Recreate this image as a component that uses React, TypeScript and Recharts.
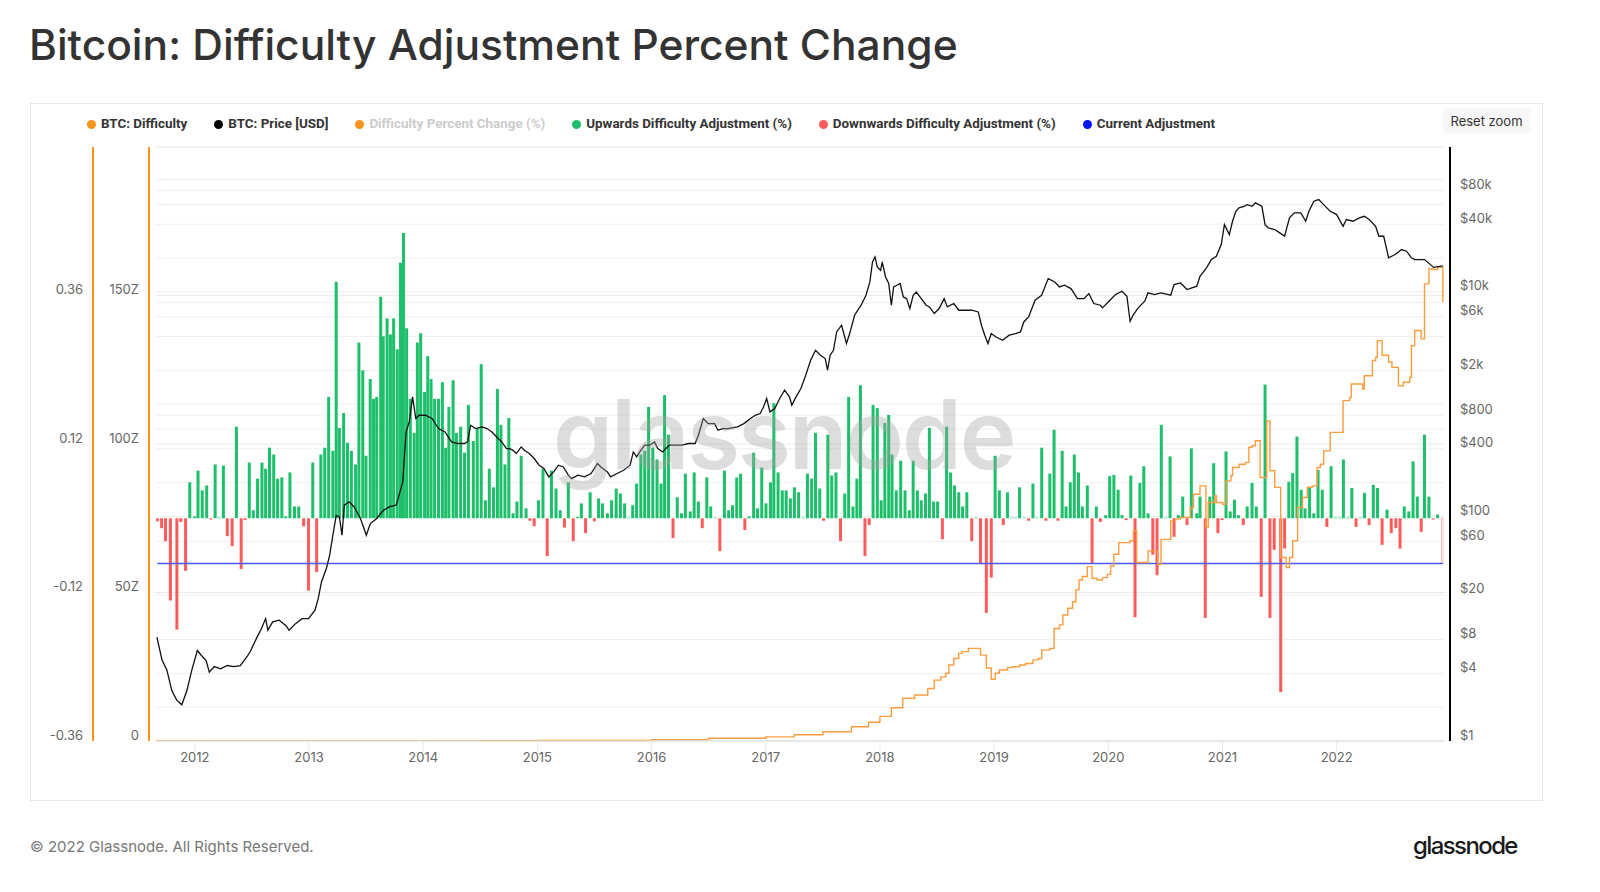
import React from 'react';
import { ComposedChart, Bar, Line, XAxis, YAxis, CartesianGrid, ReferenceLine } from 'recharts';

const FONT = "Inter, 'Noto Sans', sans-serif";

// axis ticks
const yearTicks = [2012, 2013, 2014, 2015, 2016, 2017, 2018, 2019, 2020, 2021, 2022];
const difficultyTicks = [0, 50, 100, 150, 200];
const percentTicks = [-0.36, -0.12, 0.12, 0.36];
const priceTicks = [1, 2, 4, 8, 20, 60, 100, 200, 400, 600, 800, 1000, 2000, 4000, 6000, 8000, 10000, 20000, 40000, 60000, 80000, 100000];
const priceLabelled = [1, 4, 8, 20, 60, 100, 400, 800, 2000, 6000, 10000, 40000, 80000];

// difficulty adjustments: [date as decimal year, fractional change]
const adj2011to2014: [number, number][] = [
  [2011.672, -0.005], [2011.709, -0.016], [2011.743, -0.037], [2011.786, -0.133], [2011.843, -0.18], [2011.877, -0.006],
  [2011.919, -0.085], [2011.956, 0.058], [2011.999, 0.003], [2012.028, 0.077], [2012.065, 0.045], [2012.104, 0.053],
  [2012.141, -0.002], [2012.178, 0.087], [2012.213, 0.001], [2012.25, 0.085], [2012.284, -0.029], [2012.327, -0.045],
  [2012.364, 0.148], [2012.406, -0.082], [2012.44, -0.003], [2012.477, 0.09], [2012.512, 0.013], [2012.549, 0.064],
  [2012.588, 0.09], [2012.62, 0.08], [2012.654, 0.114], [2012.691, 0.103], [2012.725, 0.064], [2012.762, 0.066],
  [2012.796, 0.003], [2012.833, 0.074], [2012.873, 0.019], [2012.91, 0.019], [2012.953, -0.013], [2012.996, -0.117],
  [2013.033, 0.09], [2013.067, -0.087], [2013.104, 0.103], [2013.138, 0.114], [2013.172, 0.196], [2013.209, 0.109],
  [2013.238, 0.382], [2013.266, 0.146], [2013.303, 0.17], [2013.337, 0.122], [2013.371, 0.109], [2013.408, 0.087],
  [2013.437, 0.284], [2013.471, 0.239], [2013.499, 0.101], [2013.536, 0.225], [2013.565, 0.193], [2013.593, 0.196],
  [2013.628, 0.358], [2013.65, 0.294], [2013.684, 0.323], [2013.713, 0.297], [2013.741, 0.323], [2013.773, 0.273],
  [2013.801, 0.413], [2013.827, 0.461], [2013.855, 0.307], [2013.887, 0.193], [2013.921, 0.138], [2013.949, 0.284],
  [2013.978, 0.299], [2014.012, 0.204], [2014.04, 0.262], [2014.069, 0.225], [2014.1, 0.193], [2014.134, 0.193],
  [2014.168, 0.22], [2014.197, 0.114], [2014.225, 0.18], [2014.262, 0.223], [2014.291, 0.138], [2014.328, 0.148],
  [2014.362, 0.106], [2014.396, 0.183],
];

const adj2014to2017: [number, number][] = [
  [2014.439, 0.125], [2014.473, 0.146], [2014.508, 0.249], [2014.545, 0.029], [2014.579, 0.08], [2014.616, 0.05],
  [2014.65, 0.209], [2014.681, 0.151], [2014.716, 0.087], [2014.75, 0.162], [2014.787, 0.008], [2014.821, 0.027],
  [2014.858, 0.101], [2014.901, 0.016], [2014.935, -0.004], [2014.972, -0.013], [2015.009, 0.029], [2015.049, 0.08],
  [2015.086, -0.061], [2015.123, 0.077], [2015.163, 0.048], [2015.2, 0.013], [2015.237, -0.015], [2015.271, 0.058],
  [2015.314, -0.037], [2015.351, 0.002], [2015.385, 0.024], [2015.422, -0.024], [2015.462, 0.042], [2015.499, -0.005],
  [2015.536, 0.032], [2015.57, 0.024], [2015.613, 0.008], [2015.65, 0.029], [2015.69, 0.048], [2015.727, 0.04],
  [2015.764, 0.024], [2015.801, 0.001], [2015.835, 0.021], [2015.869, 0.056], [2015.906, 0.103], [2015.94, 0.109],
  [2015.974, 0.18], [2016.011, 0.114], [2016.048, 0.095], [2016.083, 0.056], [2016.114, 0.199], [2016.148, 0.135],
  [2016.188, -0.032], [2016.225, 0.034], [2016.262, 0.008], [2016.296, 0.072], [2016.339, 0.011], [2016.373, 0.074],
  [2016.41, 0.027], [2016.444, -0.016], [2016.484, 0.066], [2016.518, 0.019], [2016.558, 0.001], [2016.598, -0.053],
  [2016.638, 0.077], [2016.675, 0.013], [2016.709, 0.021], [2016.746, 0.066], [2016.78, 0.072], [2016.817, -0.019],
  [2016.854, 0.003], [2016.894, 0.106], [2016.928, 0.016], [2016.965, 0.082], [2017.002, 0.024], [2017.042, 0.058],
  [2017.071, 0.186], [2017.108, 0.074], [2017.145, 0.045], [2017.179, 0.045],
];

const adj2017to2019: [number, number][] = [
  [2017.216, 0.032], [2017.251, 0.05], [2017.288, 0.042], [2017.327, 0.001], [2017.365, 0.072], [2017.402, 0.064],
  [2017.436, 0.138], [2017.473, 0.048], [2017.507, -0.004], [2017.544, 0.135], [2017.578, 0.069], [2017.615, 0.074],
  [2017.655, -0.037], [2017.692, 0.04], [2017.726, 0.196], [2017.764, 0.019], [2017.798, 0.064], [2017.829, 0.215],
  [2017.869, -0.061], [2017.906, -0.011], [2017.94, 0.183], [2017.977, 0.178], [2018.011, 0.029], [2018.043, 0.154],
  [2018.077, 0.167], [2018.106, 0.103], [2018.143, 0.045], [2018.182, 0.093], [2018.22, 0.045], [2018.257, 0.013],
  [2018.291, 0.093], [2018.328, 0.045], [2018.362, 0.029], [2018.399, 0.04], [2018.433, 0.146], [2018.47, 0.027],
  [2018.505, 0.027], [2018.547, -0.034], [2018.584, 0.148], [2018.619, 0.074], [2018.653, 0.053], [2018.69, 0.042],
  [2018.724, 0.019], [2018.761, 0.042], [2018.804, -0.037], [2018.842, 0.001], [2018.881, -0.074], [2018.932, -0.153],
  [2018.975, -0.096], [2019.009, 0.101], [2019.046, 0.045], [2019.08, -0.011], [2019.117, 0.042], [2019.154, 0.001],
  [2019.188, 0.001], [2019.223, 0.05], [2019.265, 0.001], [2019.302, -0.004], [2019.34, 0.056], [2019.374, 0.001],
  [2019.417, 0.114], [2019.454, -0.004], [2019.488, 0.072], [2019.525, 0.143], [2019.559, -0.004], [2019.596, 0.109],
  [2019.63, 0.019], [2019.667, 0.058], [2019.702, 0.103], [2019.739, 0.074], [2019.773, 0.019], [2019.816, 0.053],
  [2019.858, -0.074], [2019.895, 0.019], [2019.93, -0.006],
];

const adj2020to2022: [number, number][] = [
  [2019.977, 0.005], [2020.012, 0.068], [2020.049, 0.07], [2020.086, 0.046], [2020.12, 0.005], [2020.157, -0.003],
  [2020.197, 0.069], [2020.234, -0.16], [2020.277, 0.057], [2020.311, 0.084], [2020.348, 0.008], [2020.39, -0.059],
  [2020.427, -0.092], [2020.464, 0.151], [2020.504, 0.001], [2020.541, 0.1], [2020.576, -0.03], [2020.613, 0.005],
  [2020.652, 0.035], [2020.689, -0.011], [2020.727, 0.113], [2020.775, 0.008], [2020.803, 0.035], [2020.849, -0.161],
  [2020.889, 0.035], [2020.923, 0.089], [2020.96, -0.024], [2020.997, -0.003], [2021.031, 0.108], [2021.068, 0.011],
  [2021.105, 0.03], [2021.139, 0.005], [2021.182, -0.011], [2021.216, 0.019], [2021.259, 0.057], [2021.296, 0.019],
  [2021.339, -0.127], [2021.373, 0.216], [2021.416, -0.161], [2021.453, -0.051], [2021.51, -0.281], [2021.544, -0.049],
  [2021.581, 0.059], [2021.615, 0.073], [2021.652, 0.132], [2021.689, 0.046], [2021.723, 0.016], [2021.763, 0.051],
  [2021.8, 0.008], [2021.837, 0.078], [2021.874, 0.046], [2021.914, -0.014], [2021.951, 0.084], [2021.988, 0.001],
  [2022.028, 0.001], [2022.059, 0.095], [2022.099, 0.001], [2022.133, 0.049], [2022.17, -0.014], [2022.207, 0.001],
  [2022.244, 0.041], [2022.284, -0.011], [2022.321, 0.054], [2022.358, 0.049], [2022.398, -0.043], [2022.441, 0.014],
  [2022.478, -0.024], [2022.518, -0.016], [2022.555, -0.049], [2022.592, 0.019], [2022.632, 0.011], [2022.669, 0.092],
  [2022.706, 0.035], [2022.74, -0.022], [2022.769, 0.135], [2022.808, 0.035], [2022.846, -0.002], [2022.884, 0.006],
];

const currentAdjustmentDate = 2022.93;
const currentAdjustment = -0.0732;

// BTC price in USD: [date, price]
const price2011to2014: [number, number][] = [
  [2011.668, 8.4], [2011.712, 5.3], [2011.755, 4.3], [2011.799, 2.8], [2011.843, 2.3], [2011.886, 2.1], [2011.93, 2.8],
  [2011.974, 4.3], [2012.022, 6.4], [2012.056, 5.8], [2012.099, 5.2], [2012.127, 4.1], [2012.17, 4.6], [2012.227, 4.4],
  [2012.284, 4.7], [2012.341, 4.6], [2012.398, 4.7], [2012.455, 5.6], [2012.483, 6.2], [2012.54, 8.2], [2012.583, 10],
  [2012.62, 12.3], [2012.64, 9.7], [2012.682, 11.5], [2012.739, 11.9], [2012.796, 10.7], [2012.825, 9.7], [2012.882, 11.1],
  [2012.939, 12.3], [2012.996, 12.3], [2013.052, 14.6], [2013.081, 18.6], [2013.109, 26.1], [2013.152, 34.4],
  [2013.181, 45.2], [2013.209, 68], [2013.238, 102], [2013.266, 99], [2013.289, 68], [2013.309, 126], [2013.351, 135],
  [2013.394, 122], [2013.451, 96], [2013.502, 68], [2013.536, 86], [2013.593, 96], [2013.65, 113], [2013.707, 122],
  [2013.764, 126], [2013.821, 203], [2013.85, 565], [2013.878, 695], [2013.907, 1159], [2013.935, 745], [2013.964, 796],
  [2014.02, 796], [2014.077, 745], [2014.134, 606], [2014.191, 565], [2014.248, 461], [2014.305, 446], [2014.362, 446],
];

const price2014to2017: [number, number][] = [
  [2014.388, 461], [2014.416, 649], [2014.459, 606], [2014.516, 627], [2014.559, 606], [2014.602, 565], [2014.644, 510],
  [2014.687, 461], [2014.73, 402], [2014.758, 402], [2014.787, 388], [2014.815, 363], [2014.858, 416], [2014.886, 388],
  [2014.929, 363], [2014.972, 328], [2015.015, 286], [2015.057, 267], [2015.1, 225], [2015.143, 249], [2015.185, 286],
  [2015.228, 276], [2015.271, 233], [2015.299, 217], [2015.356, 233], [2015.413, 225], [2015.47, 241], [2015.527, 296],
  [2015.556, 276], [2015.613, 249], [2015.641, 225], [2015.698, 241], [2015.755, 258], [2015.812, 286], [2015.84, 375],
  [2015.869, 339], [2015.897, 375], [2015.94, 431], [2015.983, 431], [2016.026, 461], [2016.054, 402], [2016.097, 375],
  [2016.154, 431], [2016.211, 431], [2016.268, 431], [2016.325, 446], [2016.382, 446], [2016.41, 528], [2016.453, 745],
  [2016.496, 671], [2016.552, 671], [2016.581, 586], [2016.624, 606], [2016.666, 606], [2016.752, 627], [2016.809, 671],
  [2016.866, 745], [2016.908, 796], [2016.951, 824], [2016.98, 944], [2017.008, 1122], [2017.037, 853], [2017.079, 914],
  [2017.122, 1122],
];

const price2017to2019: [number, number][] = [
  [2017.165, 1330], [2017.208, 1161], [2017.228, 977], [2017.265, 1161], [2017.308, 1377], [2017.35, 1808],
  [2017.393, 2459], [2017.436, 3020], [2017.479, 2725], [2017.521, 2545], [2017.541, 2004], [2017.564, 2725],
  [2017.593, 3020], [2017.621, 4395], [2017.664, 5045], [2017.707, 3466], [2017.735, 4253], [2017.778, 6194],
  [2017.835, 7601], [2017.878, 9330], [2017.912, 12250], [2017.935, 18470], [2017.957, 20470], [2017.977, 16670],
  [2018.006, 15560], [2018.02, 18470], [2018.049, 13570], [2018.077, 11860], [2018.1, 7601], [2018.12, 11070],
  [2018.148, 11450], [2018.177, 11860], [2018.205, 9010], [2018.234, 8710], [2018.262, 7100], [2018.291, 9330],
  [2018.319, 9970], [2018.362, 8710], [2018.405, 7601], [2018.433, 7340], [2018.476, 6410], [2018.519, 7100],
  [2018.562, 8710], [2018.59, 7340], [2018.647, 7870], [2018.69, 6860], [2018.733, 6860], [2018.804, 6860],
  [2018.861, 6620], [2018.889, 5045], [2018.918, 4110], [2018.946, 3466], [2018.975, 4253], [2019.017, 3965],
  [2019.074, 3705], [2019.132, 4110], [2019.188, 4253], [2019.231, 4395], [2019.26, 5395], [2019.302, 5980],
  [2019.359, 8420], [2019.416, 9330], [2019.474, 13130], [2019.531, 12250], [2019.573, 11070], [2019.616, 11450],
  [2019.673, 10690], [2019.73, 8710], [2019.787, 8710], [2019.83, 9660], [2019.873, 7870], [2019.93, 7601],
];

const price2020to2022: [number, number][] = [
  [2019.949, 7200], [2020.006, 8250], [2020.063, 9460], [2020.12, 10120], [2020.163, 9140], [2020.191, 5470],
  [2020.22, 6280], [2020.262, 7200], [2020.319, 8250], [2020.348, 9790], [2020.405, 9460], [2020.462, 9790],
  [2020.547, 9330], [2020.576, 11600], [2020.633, 12000], [2020.689, 10490], [2020.775, 11220], [2020.803, 13770],
  [2020.86, 16360], [2020.903, 19400], [2020.946, 20750], [2020.989, 26400], [2021.017, 39700], [2021.06, 32360],
  [2021.088, 42560], [2021.117, 52240], [2021.145, 55980], [2021.188, 57810], [2021.216, 59850], [2021.259, 57810],
  [2021.288, 62060], [2021.345, 57810], [2021.373, 39700], [2021.401, 37150], [2021.458, 35890], [2021.501, 33500],
  [2021.544, 31260], [2021.587, 45600], [2021.629, 50470], [2021.686, 50470], [2021.729, 42560], [2021.757, 52240],
  [2021.8, 64120], [2021.843, 66380], [2021.886, 59850], [2021.943, 52240], [2022.0, 48780], [2022.056, 38370],
  [2022.085, 44020], [2022.142, 42560], [2022.199, 45600], [2022.242, 47120], [2022.284, 44020], [2022.341, 38370],
  [2022.37, 31260], [2022.412, 31260], [2022.455, 20080], [2022.512, 21480], [2022.569, 23820], [2022.612, 23010],
  [2022.655, 20080], [2022.683, 19400], [2022.726, 19400], [2022.769, 19400], [2022.85, 16500], [2022.93, 17000],
];

// BTC difficulty (Z units as on the axis): [date, difficulty]
const difficultyEarly: [number, number][] = [
  [2011.66, 0], [2013.5, 0.002], [2014.0, 0.006], [2014.5, 0.07], [2015.0, 0.17], [2015.5, 0.22], [2016.0, 0.45],
  [2016.5, 0.92], [2017.0, 1.39], [2017.25, 2.1], [2017.5, 3.1], [2017.75, 4.8], [2017.9, 6.3], [2018.0, 8.3],
  [2018.1, 11.2], [2018.2, 14.4],
];

const difficulty2018to2019: [number, number][] = [
  [2018.305, 15.5], [2018.419, 17.7], [2018.476, 20.5], [2018.533, 21.6], [2018.576, 22.8], [2018.604, 25.6],
  [2018.647, 27.8], [2018.69, 29.5], [2018.718, 30.1], [2018.775, 31.2], [2018.881, 28.9], [2018.932, 24.6],
  [2018.975, 20.8], [2019.009, 22.8], [2019.046, 23.9], [2019.117, 24.7], [2019.16, 25.0], [2019.223, 25.6],
  [2019.274, 26.1], [2019.34, 27.3], [2019.388, 27.8], [2019.417, 30.6], [2019.488, 31.2], [2019.525, 37.9],
  [2019.573, 39.1], [2019.602, 42.4], [2019.645, 44.7], [2019.687, 46.9], [2019.716, 50.9], [2019.744, 54.2],
  [2019.773, 55.4], [2019.816, 58.7], [2019.858, 54.8], [2019.901, 54.2],
];

const difficulty2020to2022: [number, number][] = [
  [2019.949, 55.0], [2019.992, 56.1], [2020.02, 58.9], [2020.049, 62.9], [2020.091, 66.8], [2020.191, 67.4],
  [2020.22, 70.8], [2020.248, 60.1], [2020.348, 64.0], [2020.433, 59.5], [2020.462, 67.9], [2020.547, 74.1],
  [2020.59, 74.7], [2020.633, 75.3], [2020.718, 78.6], [2020.746, 83.1], [2020.803, 85.9], [2020.855, 71.9],
  [2020.875, 80.3], [2020.932, 82.6], [2020.946, 80.3], [2021.003, 79.7], [2021.031, 87.6], [2021.074, 89.3],
  [2021.088, 92.1], [2021.145, 93.2], [2021.202, 93.8], [2021.231, 98.9], [2021.259, 99.4], [2021.288, 101.1],
  [2021.33, 88.7], [2021.387, 107.8], [2021.416, 91.0], [2021.458, 85.4], [2021.51, 61.8], [2021.558, 58.4],
  [2021.587, 61.8], [2021.615, 67.4], [2021.658, 78.6], [2021.701, 82.0], [2021.743, 85.4], [2021.786, 85.9],
  [2021.829, 92.1], [2021.857, 93.2], [2021.886, 97.7], [2021.943, 103.9], [2022.056, 114.6], [2022.113, 115.7],
  [2022.128, 120.2], [2022.228, 118.5], [2022.242, 123.0], [2022.313, 128.1], [2022.342, 129.2], [2022.356, 134.8],
  [2022.398, 129.9], [2022.455, 127.6], [2022.484, 125.8], [2022.541, 119.6], [2022.584, 120.8], [2022.64, 122.5],
  [2022.655, 133.1], [2022.683, 138.2], [2022.74, 135.4], [2022.769, 153.9], [2022.808, 159.0], [2022.846, 158.7],
  [2022.884, 159.5], [2022.93, 147.8],
];

const GREEN = '#1ebf6a';
const RED = '#ff5b5b';
const ORANGE = '#f7931a';
const BLUE = '#4a5af2';

const adjustments = [...adj2011to2014, ...adj2014to2017, ...adj2017to2019, ...adj2020to2022];
const barRows = adjustments
  .map(([t, change]) => ({ t, change, kind: change >= 0 ? 'up' : 'down' }))
  .concat([{ t: currentAdjustmentDate, change: currentAdjustment, kind: 'current' }]);
const priceRows = [...price2011to2014, ...price2014to2017, ...price2017to2019, ...price2020to2022].map(([t, price]) => ({ t, price }));
const difficultyRows = [...difficultyEarly, ...difficulty2018to2019, ...difficulty2020to2022].map(([t, difficulty]) => ({ t, difficulty }));

const legendItems = [
  { label: 'BTC: Difficulty', dot: ORANGE, muted: false },
  { label: 'BTC: Price [USD]', dot: '#000', muted: false },
  { label: 'Difficulty Percent Change (%)', dot: ORANGE, muted: true },
  { label: 'Upwards Difficulty Adjustment (%)', dot: GREEN, muted: false },
  { label: 'Downwards Difficulty Adjustment (%)', dot: RED, muted: false },
  { label: 'Current Adjustment', dot: '#0011ff', muted: false },
];

const tickText = { fill: '#666', fontSize: 13, fontFamily: FONT };

const yearTick = (props: any) => (
  <text x={props.x} y={props.y} dy="0.71em" textAnchor="middle" {...tickText}>{props.payload.value}</text>
);
const percentTick = (props: any) => (
  <text x={props.x} y={props.y - 6} dy="0.35em" textAnchor="end" {...tickText}>{props.payload.value.toFixed(2)}</text>
);
const difficultyTick = (props: any) => {
  const v = props.payload.value;
  if (v === 200) return <g />;
  return (
    <text x={props.x} y={props.y - 6} dy="0.35em" textAnchor="end" {...tickText}>{v === 0 ? '0' : `${v}Z`}</text>
  );
};
const priceTick = (props: any) => {
  const v = props.payload.value;
  if (!priceLabelled.includes(v)) return <g />;
  const label = v >= 1000 ? `$${v / 1000}k` : `$${v}`;
  return (
    <text x={props.x} y={props.y - 6} dy="0.35em" textAnchor="start" {...tickText}>{label}</text>
  );
};

// fixed-width bar centred on the scaled x position the library hands us
const AdjustmentBar = (props: any) => {
  const { x, y, width, height, payload } = props;
  if (x == null || y == null) return <g />;
  const cx = x + (width || 0) / 2;
  const top = height >= 0 ? y : y + height;
  const h = Math.max(Math.abs(height || 0), 0.6);
  const kind = payload?.kind;
  if (kind === 'current') {
    return <rect x={cx - 1.5} y={top} width={3} height={h} fill="#ffe6e6" stroke="#ffa8a8" strokeWidth={0.7} />;
  }
  return <rect x={cx - 1.5} y={top} width={3} height={h} fill={kind === 'up' ? GREEN : RED} />;
};

// axis ids are ordered so the spacer sits next to the plot, then difficulty, then percent
export default function App() {
  const firstDate = adjustments[0][0];
  return (
    <div style={{ position: 'absolute', left: 0, top: 0, width: 1600, height: 892, background: '#fff', fontFamily: FONT, overflow: 'hidden' }}>
      <div style={{ position: 'absolute', left: 30, top: 103, width: 1511, height: 696, border: '1px solid #e8e8e8' }} />

      <div style={{ position: 'absolute', left: 0, top: 0 }}>
        <ComposedChart width={1600} height={892} data={barRows} margin={{ top: 147, right: 90, bottom: 121, left: 33 }}>
          <CartesianGrid yAxisId="yPrice" vertical={false} stroke="#efefef" />
          <CartesianGrid yAxisId="bDiff" vertical={false} stroke="#eaeaea" />
          <XAxis
            dataKey="t"
            type="number"
            domain={[2011.66, 2022.94]}
            ticks={yearTicks}
            interval={0}
            allowDataOverflow
            tick={yearTick}
            tickSize={10}
            tickMargin={2}
            axisLine={{ stroke: '#dedede' }}
            tickLine={{ stroke: '#e8e8e8' }}
          />
          <YAxis yAxisId="aPad" orientation="left" width={7} domain={[0, 1]} tick={false} axisLine={false} tickLine={false} />
          <YAxis
            yAxisId="bDiff"
            orientation="left"
            width={56}
            domain={[0, 200]}
            ticks={difficultyTicks}
            interval={0}
            allowDataOverflow
            tick={difficultyTick}
            tickSize={0}
            tickMargin={10}
            tickLine={false}
            axisLine={{ stroke: ORANGE, strokeWidth: 2 }}
          />
          <YAxis
            yAxisId="cPct"
            orientation="left"
            width={60}
            domain={[-0.36, 0.6]}
            ticks={percentTicks}
            interval={0}
            allowDataOverflow
            tick={percentTick}
            tickSize={0}
            tickMargin={10}
            tickLine={false}
            axisLine={{ stroke: ORANGE, strokeWidth: 2 }}
          />
          <YAxis yAxisId="xPadR" orientation="right" width={6} domain={[0, 1]} tick={false} axisLine={false} tickLine={false} />
          <YAxis
            yAxisId="yPrice"
            orientation="right"
            width={60}
            scale="log"
            domain={[1, 195000]}
            ticks={priceTicks}
            interval={0}
            allowDataOverflow
            tick={priceTick}
            tickSize={0}
            tickMargin={10}
            tickLine={false}
            axisLine={{ stroke: '#000', strokeWidth: 2 }}
          />

          <Bar yAxisId="cPct" dataKey="change" shape={AdjustmentBar} isAnimationActive={false} />
          <ReferenceLine
            yAxisId="cPct"
            segment={[{ x: firstDate, y: currentAdjustment }, { x: currentAdjustmentDate, y: currentAdjustment }]}
            stroke={BLUE}
            strokeWidth={1.5}
          />
          <Line
            data={difficultyRows}
            yAxisId="bDiff"
            dataKey="difficulty"
            type="stepAfter"
            stroke="#fb9d3e"
            strokeWidth={1.4}
            dot={false}
            isAnimationActive={false}
          />
          <Line
            data={priceRows}
            yAxisId="yPrice"
            dataKey="price"
            type="linear"
            stroke="#111"
            strokeWidth={1.3}
            dot={false}
            isAnimationActive={false}
          />
        </ComposedChart>
      </div>

      <div style={{ position: 'absolute', left: 553, top: 384, fontSize: 96, fontWeight: 600, letterSpacing: -2, lineHeight: '100px', color: 'rgba(160,160,160,0.36)', pointerEvents: 'none' }}>
        glassnode
      </div>

      <div style={{ position: 'absolute', left: 29, top: 21, fontSize: 42.5, fontWeight: 500, color: '#333', lineHeight: '48px', whiteSpace: 'nowrap' }}>
        Bitcoin: Difficulty Adjustment Percent Change
      </div>

      <div style={{ position: 'absolute', left: 87, top: 116, display: 'flex', alignItems: 'center', fontFamily: 'Roboto, sans-serif', fontSize: 13.4, fontWeight: 700, lineHeight: '16px' }}>
        {legendItems.map((item) => (
          <div key={item.label} style={{ display: 'flex', alignItems: 'center', marginRight: 27 }}>
            <span style={{ width: 9, height: 9, borderRadius: '50%', background: item.dot, marginRight: 5 }} />
            <span style={{ color: item.muted ? '#cccccc' : '#333' }}>{item.label}</span>
          </div>
        ))}
      </div>

      <div style={{ position: 'absolute', left: 1443, top: 108, width: 87, height: 25, background: '#f7f7f7', borderRadius: 3, fontSize: 13, color: '#333', display: 'flex', alignItems: 'center', justifyContent: 'center' }}>
        Reset zoom
      </div>

      <div style={{ position: 'absolute', left: 30, top: 837, fontSize: 15, color: '#777' }}>
        © 2022 Glassnode. All Rights Reserved.
      </div>
      <div style={{ position: 'absolute', left: 1413, top: 831, fontSize: 24, fontWeight: 500, letterSpacing: -1.6, color: '#1a1a1a' }}>
        glassnode
      </div>
    </div>
  );
}
